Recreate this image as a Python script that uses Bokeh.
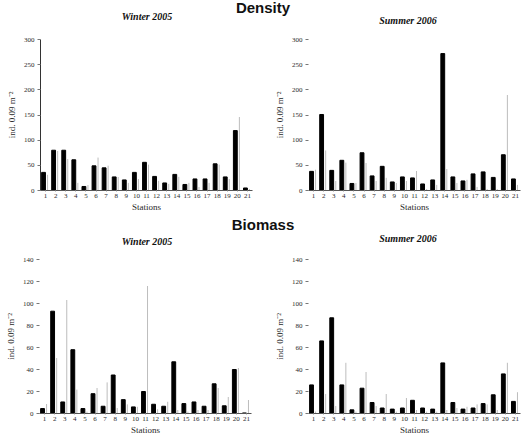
from bokeh.plotting import figure
from bokeh.models import ColumnDataSource, Range1d, FixedTicker, Div
from bokeh.layouts import column, row
from bokeh.embed import file_html
from bokeh.resources import INLINE

# Sampling stations
stations = list(range(1, 22))
station_labels = [str(s) for s in stations]

# Density (ind. 0.09 m-2): means and standard deviations
dens_w05 = [36, 80, 80, 61, 8, 49, 45, 27, 21, 36, 56, 28, 15, 32, 12, 23, 23, 53, 27, 119, 5]
dens_w05_sd = [32, 78, 62, 16, 10, 65, 49, 26, 16, 23, 52, 20, 13, 28, 16, 6, 16, 52, 23, 146, 3]
dens_s06 = [38, 151, 40, 60, 14, 75, 29, 48, 17, 27, 25, 13, 21, 272, 27, 19, 33, 37, 26, 71, 23]
dens_s06_sd = [41, 80, 18, 56, 15, 54, 18, 25, 15, 18, 39, 4, 12, 43, 15, 21, 8, 2, 2, 190, 12]

# Biomass: means and standard deviations
bio_w05 = [4.5, 93, 10.5, 58, 4.5, 18, 6.6, 35, 12.6, 6, 20, 8.4, 6.6, 47, 9, 10.5, 6.6, 27, 7, 40, 0.5]
bio_w05_sd = [9, 50, 103, 22, 2, 23, 28, 5, 8, 6, 116, 4, 11, 3, 2, 3, 3, 23, 15, 41, 12]
bio_s06 = [26, 66, 87, 26, 3.3, 23, 10, 5, 4, 5, 12, 5, 4, 46, 10, 4, 5, 9, 17, 36, 11]
bio_s06_sd = [2, 18, 7, 46, 2, 38, 7, 18, 2, 14, 3, 2, 2, 3, 5, 6, 8, 8, 3, 46, 19]

density_ticks = [0, 50, 100, 150, 200, 250, 300]
biomass_ticks = [0, 20, 40, 60, 80, 100, 120, 140]

SERIF = "Liberation Serif"
SANS = "Liberation Sans"
TXT = "#2a2a2a"


def panel(vals, sds, yticks, height, left, top, bottom, show_yline):
    src = ColumnDataSource(dict(
        x_bar=[s - 0.2 for s in stations],
        x_sd=[s + 0.2 for s in stations],
        val=vals,
        sd=sds,
        zero=[0] * len(stations),
    ))
    p = figure(width=263, height=height,
               x_range=Range1d(0.5, 21.5), y_range=Range1d(0, yticks[-1]),
               output_backend="svg", toolbar_location=None,
               min_border_left=left, min_border_right=263 - left - 212,
               min_border_top=top, min_border_bottom=bottom)
    p.border_fill_color = None

    p.vbar(x="x_bar", top="val", width=0.38, source=src,
           fill_color="black", line_color="black")
    p.segment(x0="x_sd", y0="zero", x1="x_sd", y1="sd", source=src,
              line_color="#7a7a7a", line_width=1, line_dash="1 1")

    p.xgrid.visible = False
    p.ygrid.visible = False
    p.outline_line_color = None

    p.xaxis.ticker = FixedTicker(ticks=stations)
    p.xaxis.major_label_overrides = {s: l for s, l in zip(stations, station_labels)}
    p.xaxis.axis_label = "Stations"
    p.xaxis.axis_line_color = "#555555"
    p.xaxis.major_tick_line_color = "#999999"
    p.xaxis.major_tick_out = 1
    p.xaxis.major_tick_in = 0
    p.xaxis.minor_tick_line_color = None
    p.xaxis.major_label_standoff = 2
    p.xaxis.axis_label_standoff = 1

    p.yaxis.ticker = FixedTicker(ticks=yticks)
    p.yaxis.axis_label = "ind. 0.09 m\u207b\u00b2"
    p.yaxis.axis_line_color = "#333333" if show_yline else None
    p.yaxis.major_tick_line_color = "#777777"
    p.yaxis.major_tick_out = 3
    p.yaxis.major_tick_in = 0
    p.yaxis.minor_tick_line_color = None
    p.yaxis.major_label_standoff = 3
    p.yaxis.axis_label_standoff = 4

    for ax in (p.xaxis, p.yaxis):
        ax.major_label_text_font = SERIF
        ax.major_label_text_font_size = "7px"
        ax.major_label_text_color = TXT
        ax.axis_label_text_font = SERIF
        ax.axis_label_text_font_size = "9px"
        ax.axis_label_text_font_style = "normal"
        ax.axis_label_text_color = TXT
    return p


def heading(main, main_top, subs, height):
    """A strip with the section heading and the two panel subtitles."""
    parts = [f'<div style="position:relative;width:526px;height:{height}px">',
             f'<div style="position:absolute;left:0;top:{main_top}px;width:526px;'
             f'text-align:center;font:bold 15px \'{SANS}\';line-height:15px;color:#111">'
             f'{main}</div>']
    for text, cx, top in subs:
        parts.append(
            f'<div style="position:absolute;left:{cx - 60}px;top:{top}px;width:120px;'
            f'text-align:center;font:italic bold 10px \'{SERIF}\';line-height:12px;'
            f'color:#111">{text}</div>')
    parts.append('</div>')
    return Div(text="".join(parts), width=526, height=height, margin=0)


top_strip = heading("Density", 0, [("Winter 2005", 147, 11), ("Summer 2006", 408, 15)], 26)
p1 = panel(dens_w05, dens_w05_sd, density_ticks, 189, 40, 6, 25, True)
p2 = panel(dens_s06, dens_s06_sd, density_ticks, 189, 45, 13, 23, False)

mid_strip = heading("Biomass", 2, [("Winter 2005", 147, 21), ("Summer 2006", 408, 18)], 35)
p3 = panel(bio_w05, bio_w05_sd, biomass_ticks, 187, 39, 9, 23, False)
p4 = panel(bio_s06, bio_s06_sd, biomass_ticks, 187, 45, 8, 24, False)

page = column(top_strip, row(p1, p2), mid_strip, row(p3, p4))

open("out.html", "w").write(file_html(page, INLINE))
